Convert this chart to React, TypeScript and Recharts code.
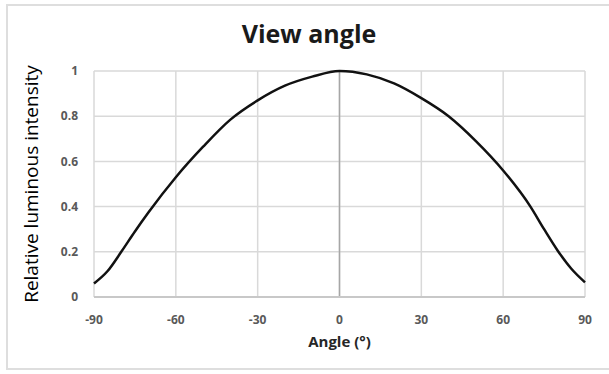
import React from "react"
import { CartesianGrid, Line, LineChart, ReferenceLine, XAxis, YAxis } from "recharts"

const angles = [-90, -85, -80, -75, -70, -60, -50, -40, -30, -20, -10, 0, 10, 20, 30, 40, 50, 60, 70, 75, 80, 85, 90]
const intensity = [0.06, 0.115, 0.2, 0.29, 0.375, 0.53, 0.665, 0.785, 0.87, 0.935, 0.975, 1.0, 0.985, 0.945, 0.88, 0.8, 0.69, 0.56, 0.4, 0.3, 0.205, 0.125, 0.065]
const xTicks = [-90, -60, -30, 0, 30, 60, 90]
const yTicks = [0, 0.2, 0.4, 0.6, 0.8, 1]

const data = angles.map((angle, i) => ({ angle, value: intensity[i] }))

const font = "'Open Sans', 'DejaVu Sans', sans-serif"
const tickStyle = { fontFamily: font, fontSize: 12, fontWeight: 700, fill: "#595959" }

export default function App() {
  return (
    <div style={{ position: "absolute", left: 0, top: 0, width: 609, height: 374, background: "#fff", overflow: "hidden" }}>
      <div
        style={{
          position: "absolute",
          left: 6,
          top: 4,
          width: 620,
          height: 366,
          border: "2px solid #dedede",
          boxSizing: "border-box",
        }}
      />
      <svg width={609} height={60} style={{ position: "absolute", left: 0, top: 0 }}>
        <text x={309} y={43} textAnchor="middle" fontFamily={font} fontSize={25} fontWeight={700} fill="#1a1a1a">
          View angle
        </text>
      </svg>
      <div style={{ position: "absolute", left: 0, top: 0 }}>
        <LineChart width={609} height={374} data={data} margin={{ top: 71, right: 24, bottom: 0, left: 0 }}>
          <CartesianGrid stroke="#d9d9d9" strokeWidth={1.5} />
          <XAxis
            dataKey="angle"
            type="number"
            domain={[-90, 90]}
            ticks={xTicks}
            height={77}
            tick={tickStyle}
            tickLine={false}
            tickSize={8}
            tickMargin={10}
            axisLine={{ stroke: "#c8c8c8", strokeWidth: 2 }}
            label={{
              value: "Angle (°)",
              position: "insideBottom",
              offset: 27,
              style: { fontFamily: font, fontSize: 15, fontWeight: 700, fill: "#262626" },
            }}
          />
          <YAxis
            type="number"
            domain={[0, 1]}
            ticks={yTicks}
            width={94}
            tick={tickStyle}
            tickLine={false}
            tickSize={8}
            tickMargin={8}
            axisLine={false}
            label={{
              value: "Relative  luminous intensity",
              angle: -90,
              position: "insideLeft",
              offset: 31,
              style: { textAnchor: "middle", fontFamily: font, fontSize: 19, fill: "#000" },
            }}
          />
          <ReferenceLine x={0} stroke="#a6a6a6" strokeWidth={1.5} />
          <Line
            type="monotone"
            dataKey="value"
            stroke="#111"
            strokeWidth={2.5}
            dot={false}
            isAnimationActive={false}
          />
        </LineChart>
      </div>
    </div>
  )
}
